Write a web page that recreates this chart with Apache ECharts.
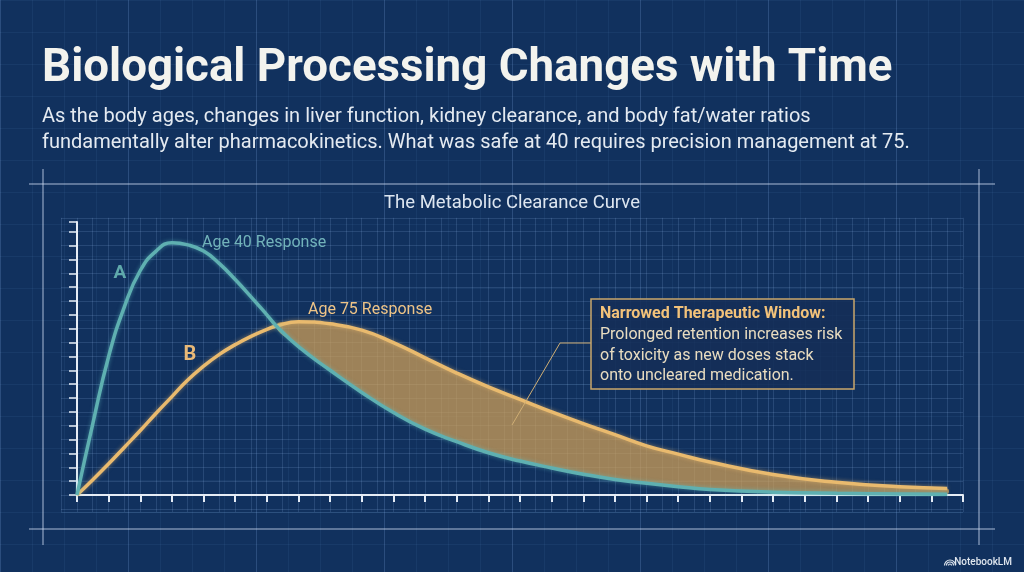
<!DOCTYPE html>
<html><head><meta charset="utf-8">
<script src="https://cdn.jsdelivr.net/npm/echarts@6/dist/echarts.min.js"></script>
<style>html,body{margin:0;padding:0;background:#11315e;}#c{width:1024px;height:572px;}</style>
</head><body><div id="c"></div>
<script>
// ---- data (arbitrary time units / concentration units) ----
const timePoints    = [0,0.5,1,1.5,2,2.5,3,3.5,4,4.5,5,5.5,6,6.3,7,8,9,10,11,12,13,14,15,16,17,18,19,20,22,24,26,27.5];
const age40Response = [0,5.15,10.0,13.6,16.2,17.6,18.2,18.05,17.6,16.7,15.55,14.3,13.0,12.2,10.7,9.0,7.4,5.95,4.75,3.85,3.05,2.45,1.95,1.5,1.12,0.84,0.6,0.4,0.2,0.12,0.08,0.06];
const age75Response = [0,1.1,2.25,3.45,4.65,5.9,7.1,8.3,9.3,10.15,10.85,11.45,11.95,12.2,12.5,12.35,11.9,11.0,9.9,8.8,7.8,6.9,6.0,5.15,4.35,3.55,2.95,2.38,1.48,0.92,0.6,0.47];
const crossingTime = 6.3;
const seriesNames = ['Age 40 Response', 'Age 75 Response'];
const curveLetters = ['A', 'B'];

const chart = echarts.init(document.getElementById('c'), null, {renderer: 'canvas'});

const pairs = (ys) => timePoints.map((t, i) => [t, ys[i]]);
// items of the narrowed window: [time, age40, age75] from the crossing onward
const windowData = timePoints.map((t, i) => [t, age40Response[i], age75Response[i]]).filter(d => d[0] >= crossingTime);

const FONT = 'Roboto, "Noto Sans", sans-serif';
const frameColor = 'rgba(205,220,240,0.55)';
const axisColor = '#e6edf6';
const teal = '#5fb0b1';
const gold = '#e9ba6e';
const SMOOTH = 0.5;

const hidden = {axisLine:{show:false}, axisTick:{show:false}, axisLabel:{show:false}};

const option = {
  backgroundColor: '#11315e',
  animation: false,
  grid: [
    {left: 0, top: 0, width: 1024, height: 572},          // page blueprint grid
    {left: 61, top: 217.8, width: 902, height: 294.2},    // plot blueprint grid
    {left: 77, top: 222, width: 886, height: 273}         // data grid
  ],
  xAxis: [
    Object.assign({type:'value', gridIndex:0, min:0, max:32, interval:1,
      splitLine:{show:true, lineStyle:{color:'rgba(120,160,225,0.08)', width:1}}}, hidden),
    Object.assign({type:'value', gridIndex:0, min:0, max:32, interval:4,
      splitLine:{show:true, lineStyle:{color:'rgba(140,180,235,0.16)', width:1}}}, hidden),
    Object.assign({type:'value', gridIndex:1, min:0, max:57, interval:1,
      splitLine:{show:true, lineStyle:{color:'rgba(150,190,240,0.17)', width:1}}}, hidden),
    {type:'value', gridIndex:2, min:0, max:28, interval:1,
      axisLine:{show:true, onZero:true, lineStyle:{color:axisColor, width:2}},
      axisTick:{show:true, length:7, lineStyle:{color:axisColor, width:2}},
      axisLabel:{show:false}, splitLine:{show:false}}
  ],
  yAxis: [
    Object.assign({type:'value', gridIndex:0, min:0, max:17.875, interval:1, inverse:true,
      splitLine:{show:true, lineStyle:{color:'rgba(120,160,225,0.08)', width:1}}}, hidden),
    Object.assign({type:'value', gridIndex:0, min:0, max:17.875, interval:1, inverse:true,
      splitLine:{show:false}}, hidden),
    Object.assign({type:'value', gridIndex:1, min:0, max:21.23, interval:1, inverse:true,
      splitLine:{show:true, lineStyle:{color:'rgba(150,190,240,0.17)', width:1}}}, hidden),
    {type:'value', gridIndex:2, min:0, max:19.7, interval:1,
      axisLine:{show:true, onZero:true, lineStyle:{color:axisColor, width:2}},
      axisTick:{show:true, length:8, lineStyle:{color:axisColor, width:1.5}},
      axisLabel:{show:false}, splitLine:{show:false}}
  ],
  series: [
    {name:'Narrowed Therapeutic Window', type:'custom', xAxisIndex:3, yAxisIndex:3,
      data: windowData, encode:{x:0, y:[1,2]}, silent:true, z:2,
      renderItem: function (params, api) {
        if (params.dataIndex !== 0) return null;
        const upper = windowData.map(d => api.coord([d[0], d[2]]));
        const lower = windowData.slice(1).map(d => api.coord([d[0], d[1]])).reverse();
        return {type:'polygon', shape:{points: upper.concat(lower), smooth: SMOOTH},
          style:{fill:'rgba(212,162,88,0.72)'}};
      }},
    {name:seriesNames[1], type:'line', xAxisIndex:3, yAxisIndex:3, data: pairs(age75Response),
      smooth:SMOOTH, showSymbol:false, symbol:'none',
      lineStyle:{color:gold, width:3.5, shadowColor:'rgba(240,190,110,0.5)', shadowBlur:4}, z:3},
    {name:seriesNames[0], type:'line', xAxisIndex:3, yAxisIndex:3, data: pairs(age40Response),
      smooth:SMOOTH, showSymbol:false, symbol:'none',
      lineStyle:{color:teal, width:3.5, shadowColor:'rgba(100,200,200,0.5)', shadowBlur:4}, z:4}
  ],
  graphic: [
    // titles
    {type:'text', x:42, y:70, z:10, style:{text:'Biological Processing Changes with Time', font:'bold 45.7px ' + FONT, fill:'#f3f3ee', verticalAlign:'middle'}},
    {type:'text', x:42, y:117, z:10, style:{text:'As the body ages, changes in liver function, kidney clearance, and body fat/water ratios', font:'20px ' + FONT, fill:'#e4eaf1', verticalAlign:'middle'}},
    {type:'text', x:42, y:143, z:10, style:{text:'fundamentally alter pharmacokinetics. What was safe at 40 requires precision management at 75.', font:'20px ' + FONT, fill:'#e4eaf1', verticalAlign:'middle'}},
    {type:'text', x:512, y:203, z:10, style:{text:'The Metabolic Clearance Curve', font:'18.5px ' + FONT, fill:'#dde6f0', align:'center', verticalAlign:'middle'}},
    // blueprint frame
    {type:'line', z:1, shape:{x1:29, y1:184, x2:995, y2:184}, style:{stroke:frameColor, lineWidth:1.5}},
    {type:'line', z:1, shape:{x1:29, y1:529, x2:995, y2:529}, style:{stroke:frameColor, lineWidth:1.5}},
    {type:'line', z:1, shape:{x1:43, y1:169, x2:43, y2:545}, style:{stroke:frameColor, lineWidth:1.5}},
    {type:'line', z:1, shape:{x1:979, y1:169, x2:979, y2:545}, style:{stroke:frameColor, lineWidth:1.5}},
    // curve labels
    {type:'text', x:120, y:273.5, z:10, style:{text:curveLetters[0], font:'bold 19px ' + FONT, fill:'#5fa9ab', align:'center', verticalAlign:'middle'}},
    {type:'text', x:190, y:355, z:10, style:{text:curveLetters[1], font:'bold 20px ' + FONT, fill:'#e8b877', align:'center', verticalAlign:'middle'}},
    {type:'text', x:202, y:243, z:10, style:{text:seriesNames[0], font:'16px ' + FONT, fill:'#72b3ba', verticalAlign:'middle'}},
    {type:'text', x:308, y:310, z:10, style:{text:seriesNames[1], font:'16px ' + FONT, fill:'#eec487', verticalAlign:'middle'}},
    // annotation
    {type:'polyline', z:9, shape:{points:[[591,343],[560,343],[512,425]]}, style:{stroke:'#cfae74', lineWidth:1, fill:null}},
    {type:'rect', z:9, shape:{x:591, y:299, width:263, height:90}, style:{fill:'rgba(20,46,88,0.88)', stroke:'#c9a66b', lineWidth:1.5}},
    {type:'text', x:600, y:314, z:10, style:{text:'Narrowed Therapeutic Window:', font:'bold 16px ' + FONT, fill:'#f2c27a', verticalAlign:'middle'}},
    {type:'text', x:600, y:335, z:10, style:{text:'Prolonged retention increases risk', font:'16px ' + FONT, fill:'#e8dcc0', verticalAlign:'middle'}},
    {type:'text', x:600, y:355.5, z:10, style:{text:'of toxicity as new doses stack', font:'16px ' + FONT, fill:'#e8dcc0', verticalAlign:'middle'}},
    {type:'text', x:600, y:376, z:10, style:{text:'onto uncleared medication.', font:'16px ' + FONT, fill:'#e8dcc0', verticalAlign:'middle'}},
    // watermark
    {type:'arc', z:10, shape:{cx:950, cy:565.5, r:1.5, startAngle:Math.PI, endAngle:2*Math.PI}, style:{stroke:'#dfe6ee', lineWidth:1.2, fill:null}},
    {type:'arc', z:10, shape:{cx:950, cy:565.5, r:3.5, startAngle:Math.PI, endAngle:2*Math.PI}, style:{stroke:'#dfe6ee', lineWidth:1.2, fill:null}},
    {type:'arc', z:10, shape:{cx:950, cy:565.5, r:5.5, startAngle:Math.PI, endAngle:2*Math.PI}, style:{stroke:'#dfe6ee', lineWidth:1.2, fill:null}},
    {type:'text', x:1012, y:562, z:10, style:{text:'NotebookLM', font:'500 10px ' + FONT, fill:'#dfe6ee', align:'right', verticalAlign:'middle'}}
  ]
};
chart.setOption(option);
</script>
</body></html>
